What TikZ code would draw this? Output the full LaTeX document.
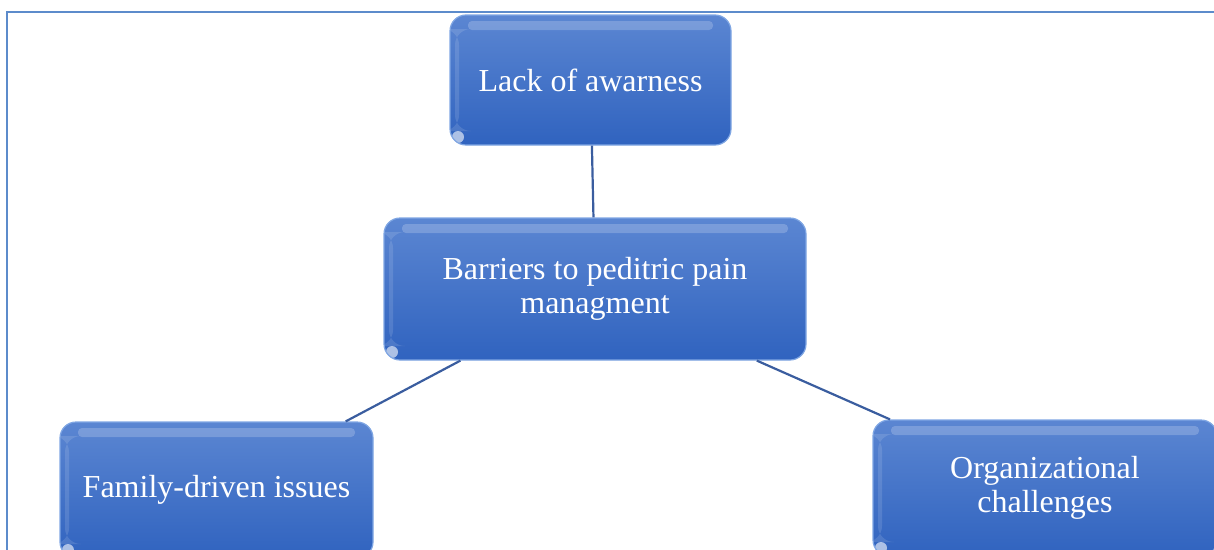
\documentclass[tikz,border=0pt]{standalone}
\usepackage{fontspec}
\setmainfont{Liberation Serif}
\definecolor{boxtop}{HTML}{5B86D2}
\definecolor{boxbottom}{HTML}{3063BF}
\definecolor{boxedge}{HTML}{7FA6E3}
\definecolor{linkblue}{HTML}{3A5D9F}
\definecolor{framblue}{HTML}{5C8BCB}
\tikzset{
  barrier/.style={draw=boxedge, line width=1.2pt, rounded corners=16pt,
    top color=boxtop, bottom color=boxbottom, text=white, align=center,
    font=\fontsize{32}{34}\selectfont, inner sep=0pt,
    path picture={
      \fill[white, opacity=0.2, rounded corners=4pt]
        ([xshift=18pt,yshift=-6pt]path picture bounding box.north west) rectangle
        ([xshift=-18pt,yshift=-15pt]path picture bounding box.north east);
      \fill[white, opacity=0.12]
        ([xshift=5pt,yshift=-14pt]path picture bounding box.north west) rectangle
        ([xshift=9pt,yshift=14pt]path picture bounding box.south west);
      \fill[white, opacity=0.6]
        ([xshift=8pt,yshift=8pt]path picture bounding box.south west) circle (6pt);
    }},
  link/.style={draw=linkblue, line width=2.2pt},
}
\begin{document}
\begin{tikzpicture}[x=1pt, y=-1pt]
  \clip (0,0) rectangle (1214,549);
  \draw[framblue, line width=2.5pt] (7,12) rectangle (1240,580);

  % boxes
  \node[barrier, minimum width=281pt, minimum height=130pt] (aware) at (590.5,80) {Lack of awarness};
  \node[barrier, minimum width=422pt, minimum height=142pt] (barr) at (595,289) {Barriers to peditric pain\\managment};
  \node[barrier, minimum width=313pt, minimum height=136pt] (family) at (216.5,490) {Family-driven issues};
  \node[barrier, minimum width=344pt, minimum height=136pt] (organ) at (1045,488) {Organizational\\challenges};

  % connectors
  \draw[link] (aware) -- (barr);
  \draw[link] (barr) -- (family);
  \draw[link] (barr) -- (organ);
\end{tikzpicture}
\end{document}
